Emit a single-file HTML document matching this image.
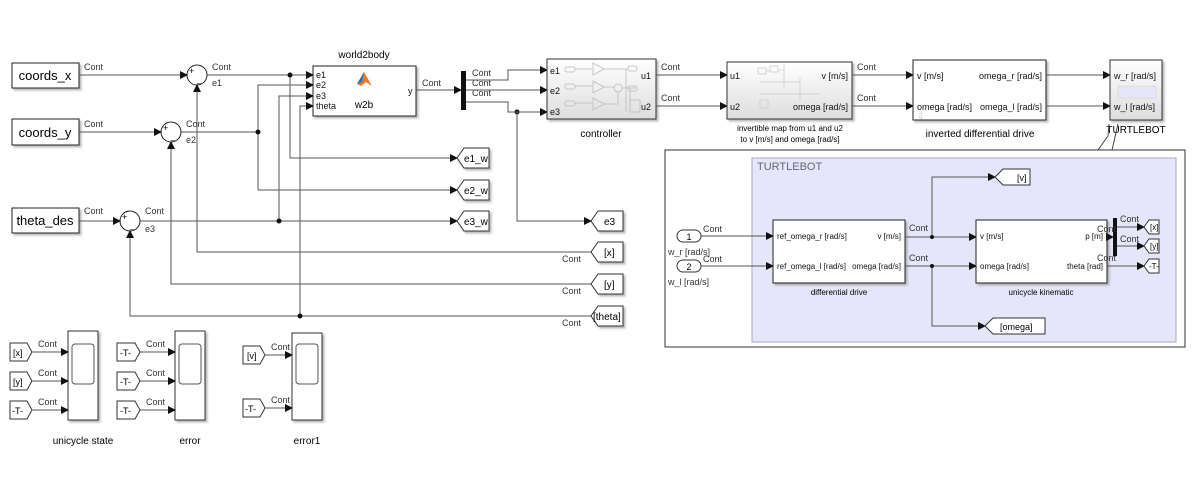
<!DOCTYPE html>
<html><head><meta charset="utf-8"><style>
html,body{margin:0;padding:0;background:#fff;}
svg{display:block;font-family:"Liberation Sans",sans-serif;}
.c{font-size:9px;fill:#333;}
.l{stroke:#555;stroke-width:1;fill:none;}
.b{fill:#fff;stroke:#222;stroke-width:1;}
.t{font-size:9px;fill:#111;}
</style></head><body>
<svg width="1193" height="478" viewBox="0 0 1193 478" xmlns="http://www.w3.org/2000/svg">
<defs>
<marker id="a" markerWidth="8" markerHeight="8" refX="7" refY="4" orient="auto" markerUnits="userSpaceOnUse"><path d="M0,0 L8,4 L0,8 z" fill="#111"/></marker>
<linearGradient id="g" x1="0" y1="0" x2="0" y2="1"><stop offset="0" stop-color="#fff"/><stop offset="1" stop-color="#ddd"/></linearGradient>
<filter id="sh" x="-5%" y="-5%" width="115%" height="115%"><feDropShadow dx="2" dy="2" stdDeviation="1" flood-color="#888" flood-opacity="0.6"/></filter>
</defs>

<g filter="url(#sh)">
<rect class="b" x="12" y="63" width="67" height="25"/>
<rect class="b" x="12" y="119" width="67" height="26"/>
<rect class="b" x="12" y="208" width="67" height="25"/>
</g>
<text x="45" y="80" font-size="13" text-anchor="middle">coords_x</text>
<text x="45" y="137" font-size="13" text-anchor="middle">coords_y</text>
<text x="45" y="225" font-size="13" text-anchor="middle">theta_des</text>

<g fill="#fff" stroke="#222">
<circle cx="197" cy="75" r="10"/><circle cx="171" cy="132" r="10"/><circle cx="130" cy="221" r="10"/>
</g>
<g font-size="9"><text x="189" y="74">+</text><text x="197" y="82">_</text>
<text x="163" y="131">+</text><text x="171" y="139">_</text>
<text x="122" y="220">+</text><text x="130" y="228">_</text></g>

<path class="l" d="M79,75 H187" marker-end="url(#a)"/>
<path class="l" d="M79,132 H161" marker-end="url(#a)"/>
<path class="l" d="M79,221 H120" marker-end="url(#a)"/>
<text class="c" x="84" y="70">Cont</text><text class="c" x="84" y="127">Cont</text><text class="c" x="84" y="214">Cont</text>
<text class="c" x="212" y="70">Cont</text><text class="c" x="212" y="86">e1</text>
<text class="c" x="186" y="127">Cont</text><text class="c" x="186" y="143">e2</text>
<text class="c" x="145" y="214">Cont</text><text class="c" x="145" y="232">e3</text>

<text x="364" y="58" font-size="10" text-anchor="middle">world2body</text>
<rect class="b" x="313" y="66" width="103" height="50" filter="url(#sh)" stroke-width="1.5"/>
<g class="t"><text x="316" y="78">e1</text><text x="316" y="88">e2</text><text x="316" y="99">e3</text><text x="316" y="109">theta</text><text x="408" y="94">y</text></g>
<path d="M357,84 L364,72 L372,86 L366,82 L361,86 z" fill="#e87a2b"/><path d="M357,84 L364,72 L362,82z" fill="#2a6ebd"/>
<text x="364" y="108" font-size="10" text-anchor="middle">w2b</text>

<path class="l" d="M207,75 H313" marker-end="url(#a)"/>
<path class="l" d="M181,132 H258"/>
<path class="l" d="M140,221 H457" marker-end="url(#a)"/>
<path class="l" d="M290,75 V158 H457" marker-end="url(#a)"/>
<path class="l" d="M258,190 V85 H313" marker-end="url(#a)"/>
<path class="l" d="M258,190 H457" marker-end="url(#a)"/>
<path class="l" d="M279,221 V96 H313" marker-end="url(#a)"/>
<path class="l" d="M300,316 V106 H313" marker-end="url(#a)"/>
<path class="l" d="M591,252 H197 V85" marker-end="url(#a)"/>
<path class="l" d="M591,284 H171 V142" marker-end="url(#a)"/>
<path class="l" d="M591,316 H130 V231" marker-end="url(#a)"/>
<g fill="#111"><circle cx="290" cy="75" r="2.5"/><circle cx="258" cy="132" r="2.5"/><circle cx="279" cy="221" r="2.5"/><circle cx="300" cy="316" r="2.5"/><circle cx="517" cy="112" r="2.5"/></g>

<g fill="#fff" stroke="#333" filter="url(#sh)">
<path d="M457,158 L464,148 H489 V168 H464 z"/>
<path d="M457,190 L464,180 H489 V200 H464 z"/>
<path d="M457,221 L464,211 H489 V231 H464 z"/>
<path d="M591,221 L598,211 H623 V231 H598 z"/>
<path d="M591,252 L598,242 H623 V262 H598 z"/>
<path d="M591,284 L598,274 H623 V294 H598 z"/>
<path d="M591,316 L598,306 H623 V326 H598 z"/>
</g>
<g font-size="10"><text x="464" y="162">e1_w</text><text x="464" y="194">e2_w</text><text x="464" y="225">e3_w</text>
<text x="604" y="225">e3</text><text x="604" y="256">[x]</text><text x="604" y="288">[y]</text><text x="593" y="320" font-size="10">[theta]</text></g>
<text class="c" x="562" y="262">Cont</text><text class="c" x="562" y="294">Cont</text><text class="c" x="562" y="326">Cont</text>

<path class="l" d="M416,90 H461" marker-end="url(#a)"/>
<text class="c" x="422" y="86">Cont</text>
<rect x="461" y="71" width="5" height="39" fill="#111"/>
<text class="c" x="472" y="76">Cont</text><text class="c" x="472" y="86">Cont</text><text class="c" x="472" y="96">Cont</text>
<path class="l" d="M466,80 H508 V70 H547" marker-end="url(#a)"/>
<path class="l" d="M466,90 H547" marker-end="url(#a)"/>
<path class="l" d="M466,102 H508 V112 H547" marker-end="url(#a)"/>
<path class="l" d="M517,112 V221 H591" marker-end="url(#a)"/>

<rect x="547" y="59" width="109" height="60" fill="url(#g)" stroke="#333" filter="url(#sh)"/>
<g class="t" font-size="10"><text x="550" y="74">e1</text><text x="550" y="94">e2</text><text x="550" y="115">e3</text><text x="641" y="79">u1</text><text x="641" y="110">u2</text></g>
<g stroke="#bbb" fill="none" stroke-width="0.8">
<rect x="565" y="67" width="10" height="5" rx="2"/><rect x="565" y="84" width="10" height="5" rx="2"/><rect x="565" y="101" width="10" height="5" rx="2"/>
<path d="M575,69 H592 M575,86 H592 M575,103 H592"/>
<path d="M593,63 L604,69 L593,75z M593,81 L604,87 L593,93z M593,98 L604,104 L593,110z"/>
<path d="M604,69 H628 M604,87 H614 M604,104 H618 V92"/><circle cx="618" cy="88" r="4"/>
<path d="M622,88 H636 M626,69 V112 M630,88 V105"/><rect x="628" y="66" width="9" height="5" rx="2"/><rect x="628" y="86" width="9" height="5" rx="2"/><rect x="630" y="100" width="10" height="12"/>
</g>
<text x="601" y="137" font-size="10" text-anchor="middle">controller</text>

<path class="l" d="M656,75 H727" marker-end="url(#a)"/>
<path class="l" d="M656,106 H727" marker-end="url(#a)"/>
<text class="c" x="661" y="70">Cont</text><text class="c" x="661" y="101">Cont</text>

<rect x="727" y="62" width="125" height="57" fill="url(#g)" stroke="#333" filter="url(#sh)"/>
<g class="t" font-size="10"><text x="730" y="79">u1</text><text x="730" y="110">u2</text><text x="848" y="79" text-anchor="end">v [m/s]</text><text x="848" y="110" text-anchor="end">omega [rad/s]</text></g>
<g stroke="#ccc" fill="none" stroke-width="0.8"><rect x="758" y="68" width="8" height="6"/><rect x="770" y="66" width="8" height="6"/><path d="M766,71 H770 M778,70 H784 M784,64 V88 M760,82 H800 M760,94 H820 M800,78 V100"/><rect x="760" y="100" width="8" height="8"/></g>
<text x="790" y="131" font-size="8" text-anchor="middle">invertible map from u1 and u2</text>
<text x="790" y="142" font-size="8" text-anchor="middle">to v [m/s] and omega [rad/s]</text>

<path class="l" d="M852,75 H913" marker-end="url(#a)"/>
<path class="l" d="M852,106 H913" marker-end="url(#a)"/>
<text class="c" x="857" y="70">Cont</text><text class="c" x="857" y="101">Cont</text>

<rect class="b" x="913" y="60" width="133" height="60" stroke="#333" filter="url(#sh)"/>
<g class="t" font-size="10"><text x="917" y="79">v [m/s]</text><text x="917" y="110">omega [rad/s]</text><text x="1042" y="79" text-anchor="end">omega_r [rad/s]</text><text x="1042" y="110" text-anchor="end">omega_l [rad/s]</text></g>
<text x="917" y="119" font-size="9" fill="#bbb">⇩</text>
<text x="980" y="137" font-size="10" text-anchor="middle">inverted differential drive</text>

<path class="l" d="M1046,75 H1110" marker-end="url(#a)"/>
<path class="l" d="M1046,106 H1110" marker-end="url(#a)"/>

<rect x="1110" y="60" width="52" height="60" fill="url(#g)" stroke="#333" filter="url(#sh)"/>
<g class="t" font-size="9"><text x="1114" y="79">w_r [rad/s]</text><text x="1114" y="110">w_l [rad/s]</text></g>
<rect x="1118" y="86" width="38" height="12" fill="#e6e6f6" stroke="#ccd" stroke-width="0.5"/>
<text x="1136" y="133" font-size="10" text-anchor="middle">TURTLEBOT</text>
<path d="M1109,124 L1108,136 L1098,150 M1118,124 L1112,150" stroke="#444" fill="none"/>

<rect x="665" y="150" width="520" height="197" fill="#fff" stroke="#333"/>
<rect x="752" y="158" width="424" height="184" fill="#e6e6fa" stroke="#aab"/>
<text x="757" y="170" font-size="11" fill="#667">TURTLEBOT</text>
<rect x="677" y="230" width="24" height="12" rx="6" fill="#fff" stroke="#333"/>
<rect x="677" y="260" width="24" height="12" rx="6" fill="#fff" stroke="#333"/>
<text x="689" y="240" font-size="9" text-anchor="middle">1</text><text x="689" y="270" font-size="9" text-anchor="middle">2</text>
<text class="c" x="668" y="255" font-size="8">w_r [rad/s]</text><text class="c" x="668" y="285" font-size="8">w_l [rad/s]</text>
<text class="c" x="703" y="232" font-size="8">Cont</text><text class="c" x="703" y="262" font-size="8">Cont</text>
<path class="l" d="M701,236 H773" marker-end="url(#a)"/>
<path class="l" d="M701,266 H773" marker-end="url(#a)"/>
<rect class="b" x="773" y="220" width="132" height="63" stroke="#333" filter="url(#sh)"/>
<g font-size="8" fill="#111"><text x="777" y="239">ref_omega_r [rad/s]</text><text x="777" y="269">ref_omega_l [rad/s]</text><text x="901" y="239" text-anchor="end">v [m/s]</text><text x="901" y="269" text-anchor="end">omega [rad/s]</text></g>
<text x="839" y="295" font-size="8" text-anchor="middle">differential drive</text>
<text class="c" x="909" y="231" font-size="8">Cont</text><text class="c" x="909" y="261" font-size="8">Cont</text>
<path class="l" d="M905,237 H976" marker-end="url(#a)"/>
<path class="l" d="M905,266 H976" marker-end="url(#a)"/>
<path class="l" d="M932,237 V177 H995" marker-end="url(#a)"/>
<path class="l" d="M932,266 V326 H985" marker-end="url(#a)"/>
<circle cx="932" cy="237" r="2" fill="#111"/><circle cx="932" cy="266" r="2" fill="#111"/>
<g fill="#fff" stroke="#333"><path d="M995,177 L1003,169 H1030 V185 H1003 z"/><path d="M985,326 L993,318 H1045 V334 H993 z"/></g>
<text x="1017" y="181" font-size="9">[v]</text><text x="1000" y="330" font-size="9">[omega]</text>
<rect class="b" x="976" y="220" width="131" height="63" stroke="#333" filter="url(#sh)"/>
<g font-size="8" fill="#111"><text x="980" y="239">v [m/s]</text><text x="980" y="269">omega [rad/s]</text><text x="1103" y="239" text-anchor="end">p [m]</text><text x="1103" y="269" text-anchor="end">theta [rad]</text></g>
<text x="1041" y="295" font-size="8" text-anchor="middle">unicycle kinematic</text>
<path class="l" d="M1107,237 H1113" marker-end="url(#a)"/>
<rect x="1113" y="218" width="4" height="38" fill="#111"/>
<text class="c" x="1097" y="232" font-size="8">Cont</text><text class="c" x="1120" y="222" font-size="8">Cont</text><text class="c" x="1120" y="242" font-size="8">Cont</text><text class="c" x="1097" y="261" font-size="8">Cont</text>
<path class="l" d="M1117,227 H1144" marker-end="url(#a)"/>
<path class="l" d="M1117,246 H1144" marker-end="url(#a)"/>
<path class="l" d="M1107,266 H1144" marker-end="url(#a)"/>
<g fill="#fff" stroke="#333"><path d="M1144,227 L1149,220 H1159 V234 H1149 z"/><path d="M1144,246 L1149,239 H1159 V253 H1149 z"/><path d="M1144,266 L1149,259 H1159 V273 H1149 z"/></g>
<g font-size="8"><text x="1150" y="230">[x]</text><text x="1150" y="249">[y]</text><text x="1149" y="269">-T-</text></g>

<g filter="url(#sh)" fill="#fff" stroke="#333">
<rect x="68" y="331" width="30" height="89"/><rect x="175" y="331" width="30" height="89"/><rect x="292" y="333" width="30" height="87"/>
</g>
<g fill="#fff" stroke="#555"><rect x="72" y="344" width="22" height="40" rx="3"/><rect x="179" y="344" width="22" height="40" rx="3"/><rect x="296" y="344" width="22" height="40" rx="3"/></g>
<g fill="#fff" stroke="#333">
<path d="M10,343 H27 L32,352 L27,361 H10 z"/><path d="M10,372 H27 L32,381 L27,390 H10 z"/><path d="M10,401 H27 L32,410 L27,419 H10 z"/>
<path d="M117,343 H135 L140,352 L135,361 H117 z"/><path d="M117,372 H135 L140,381 L135,390 H117 z"/><path d="M117,401 H135 L140,410 L135,419 H117 z"/>
<path d="M243,346 H260 L265,355 L260,364 H243 z"/><path d="M243,399 H260 L265,408 L260,417 H243 z"/>
</g>
<g font-size="9"><text x="13" y="356">[x]</text><text x="13" y="385">[y]</text><text x="12" y="414">-T-</text>
<text x="120" y="356">-T-</text><text x="120" y="385">-T-</text><text x="120" y="414">-T-</text>
<text x="247" y="359">[v]</text><text x="245" y="412">-T-</text></g>
<path class="l" d="M32,352 H68" marker-end="url(#a)"/><path class="l" d="M32,381 H68" marker-end="url(#a)"/><path class="l" d="M32,410 H68" marker-end="url(#a)"/>
<path class="l" d="M140,352 H175" marker-end="url(#a)"/><path class="l" d="M140,381 H175" marker-end="url(#a)"/><path class="l" d="M140,410 H175" marker-end="url(#a)"/>
<path class="l" d="M265,355 H292" marker-end="url(#a)"/><path class="l" d="M265,408 H292" marker-end="url(#a)"/>
<g class="c"><text x="38" y="347">Cont</text><text x="38" y="376">Cont</text><text x="38" y="405">Cont</text>
<text x="146" y="347">Cont</text><text x="146" y="376">Cont</text><text x="146" y="405">Cont</text>
<text x="271" y="350">Cont</text><text x="271" y="403">Cont</text></g>
<g font-size="10" text-anchor="middle"><text x="83" y="444">unicycle state</text><text x="190" y="444">error</text><text x="307" y="444">error1</text></g>
</svg>
</body></html>
